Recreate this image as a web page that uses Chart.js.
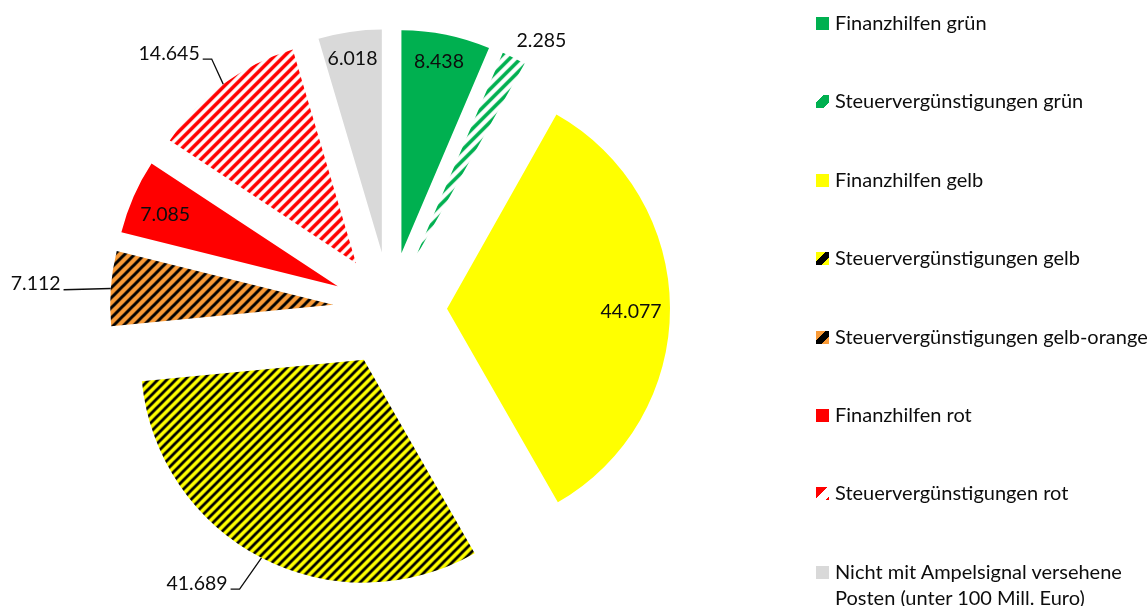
<!DOCTYPE html>
<html>
<head>
<meta charset="utf-8">
<script src="https://cdn.jsdelivr.net/npm/chart.js@4.4.1/dist/chart.umd.min.js"></script>
<style>
  body { margin: 0; background: #fff; font-family: Lato, sans-serif; }
  #wrap { position: relative; width: 1147px; height: 606px; overflow: hidden; }
  #pie { position: absolute; left: 0; top: 0; }
  .leg { position: absolute; left: 816px; font-size: 20px; line-height: 26px; color: #0d0d0d; white-space: nowrap; }
  .leg i { position: absolute; left: 0; top: 8px; width: 13px; height: 13px; }
  .leg span { display: block; margin-left: 19px; }
</style>
</head>
<body>
<div id="wrap">
  <canvas id="pie" width="1147" height="606"></canvas>
  <div id="legend"></div>
</div>
<script>
// Daten (Mill. Euro), im Uhrzeigersinn ab 12 Uhr
const categories = [
  'Finanzhilfen grün',
  'Steuervergünstigungen grün',
  'Finanzhilfen gelb',
  'Steuervergünstigungen gelb',
  'Steuervergünstigungen gelb-orange',
  'Finanzhilfen rot',
  'Steuervergünstigungen rot',
  ['Nicht mit Ampelsignal versehene', 'Posten (unter 100 Mill. Euro)']
];
const values = [8438, 2285, 44077, 41689, 7112, 7085, 14645, 6018];

// Darstellung
const pieRadius = 223;
const explodePx = 57; // alle Segmente gleich weit herausgezogen

// Lage der Beschriftungen relativ zur Segmentspitze (r in px, turn in Grad, leg = Fuehrungslinie)
const labelPlacement = [
  { r: 196, turn: -0.5 },
  { r: 252, turn: 3.8 },
  { r: 184, turn: 0.9 },
  { r: 261, turn: 1.1, leg: 9 },
  { r: 270, turn: -1, leg: 0 },
  { r: 187, turn: -1 },
  { r: 250, turn: 1.3, leg: 9 },
  { r: 197, turn: -0.3 }
];

function stripes(bg, fg, size, width) {
  const c = document.createElement('canvas');
  c.width = c.height = size;
  const g = c.getContext('2d');
  g.fillStyle = bg;
  g.fillRect(0, 0, size, size);
  g.strokeStyle = fg;
  g.lineWidth = width;
  g.beginPath();
  g.moveTo(-size / 2, size / 2); g.lineTo(size / 2, -size / 2);
  g.moveTo(0, size); g.lineTo(size, 0);
  g.moveTo(size / 2, size * 1.5); g.lineTo(size * 1.5, size / 2);
  g.stroke();
  return g.createPattern(c, 'repeat');
}

const green = '#00B050', yellow = '#FFFF00', orange = '#F99B38', red = '#FF0000', grey = '#D9D9D9';

const fills = [
  green,
  stripes('#ffffff', green, 11, 3.6),
  yellow,
  stripes(yellow, '#000000', 9, 2.8),
  stripes(orange, '#000000', 10, 3.0),
  red,
  stripes('#ffffff', red, 10, 3.6),
  grey
];

// Legenden-Kaestchen (vergroesserter Musterausschnitt wie im Original)
const swatches = [
  green,
  'linear-gradient(135deg, #fff 0 30%, ' + green + ' 30% 80%, #fff 80%)',
  yellow,
  'linear-gradient(135deg, ' + yellow + ' 0 35%, #000 35% 70%, ' + yellow + ' 70%)',
  'linear-gradient(135deg, ' + orange + ' 0 35%, #000 35% 70%, ' + orange + ' 70%)',
  red,
  'linear-gradient(135deg, ' + red + ' 0 45%, #fff 45% 85%, ' + red + ' 85%)',
  grey
];

function fmt(v) {
  return String(v).replace(/\B(?=(\d{3})+(?!\d))/g, '.');
}

function buildLegend() {
  const box = document.getElementById('legend');
  categories.forEach((cat, i) => {
    const item = document.createElement('div');
    item.className = 'leg';
    item.style.top = (9 + i * 78.4) + 'px';
    const sw = document.createElement('i');
    sw.style.background = swatches[i];
    item.appendChild(sw);
    const lines = Array.isArray(cat) ? cat : [cat];
    lines.forEach(t => {
      const s = document.createElement('span');
      s.textContent = t;
      item.appendChild(s);
    });
    box.appendChild(item);
  });
}

// Explosion wie in Excel: jedes Segment parallel entlang seiner Winkelhalbierenden verschieben
// (das eingebaute offset verkleinert kleine Segmente, daher eigene Verschiebung)
const ArcEl = Chart.registry.getElement('arc');
const baseArcDraw = ArcEl.prototype.draw;
ArcEl.prototype.draw = function (ctx) {
  const mid = (this.startAngle + this.endAngle) / 2;
  ctx.save();
  ctx.translate(Math.cos(mid) * explodePx, Math.sin(mid) * explodePx);
  baseArcDraw.call(this, ctx);
  ctx.restore();
};

const sliceLabels = {
  id: 'sliceLabels',
  afterDatasetsDraw(chart) {
    const ctx = chart.ctx;
    ctx.save();
    ctx.font = '19.5px Lato';
    ctx.fillStyle = '#0d0d0d';
    ctx.strokeStyle = '#0d0d0d';
    ctx.lineWidth = 1.3;
    ctx.textBaseline = 'alphabetic';
    chart.getDatasetMeta(0).data.forEach((arc, i) => {
      const p = labelPlacement[i];
      const mid = (arc.startAngle + arc.endAngle) / 2;
      const ax = arc.x + Math.cos(mid) * explodePx;
      const ay = arc.y + Math.sin(mid) * explodePx;
      const a = mid + (p.turn || 0) * Math.PI / 180;
      const text = fmt(values[i]);
      if (p.leg === undefined) {
        ctx.textAlign = 'center';
        ctx.fillText(text, ax + Math.cos(a) * p.r, ay + Math.sin(a) * p.r + 7);
      } else {
        const sx = ax + Math.cos(mid) * arc.outerRadius;
        const sy = ay + Math.sin(mid) * arc.outerRadius;
        const ex = ax + Math.cos(a) * p.r;
        const ey = ay + Math.sin(a) * p.r;
        ctx.beginPath();
        ctx.moveTo(sx, sy);
        ctx.lineTo(ex, ey);
        ctx.lineTo(ex - p.leg, ey);
        ctx.stroke();
        ctx.textAlign = 'right';
        ctx.fillText(text, ex - p.leg - 3, ey + 0.5);
      }
    });
    ctx.restore();
  }
};

let chart;
function Loadchart() {
  const ctx = document.getElementById('pie').getContext('2d');
  chart = new Chart(ctx, {
    type: 'pie',
    data: {
      labels: categories.map(c => Array.isArray(c) ? c.join(' ') : c),
      datasets: [{
        data: values,
        backgroundColor: fills,
        borderWidth: 0,
        offset: 0,
        hoverOffset: 0,
        radius: pieRadius
      }]
    },
    options: {
      responsive: false,
      animation: false,
      events: [],
      layout: { padding: { left: 0, right: 367, top: 12, bottom: 0 } },
      plugins: {
        legend: { display: false },
        tooltip: { enabled: false }
      }
    },
    plugins: [sliceLabels]
  });
}

buildLegend();
Loadchart();
</script>
</body>
</html>
